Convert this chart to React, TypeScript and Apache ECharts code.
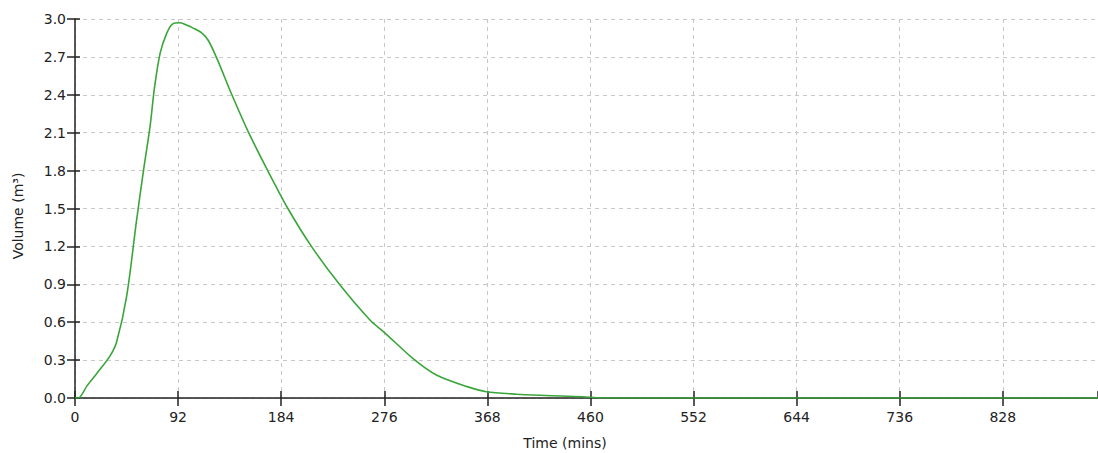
import React, { useEffect, useRef } from "react";
import * as echarts from "echarts";

const timeMins: number[] = [
  0, 3, 11, 20, 31, 37, 46, 55, 61.6, 67, 71, 76, 82, 87, 94, 100, 105, 113,
  119, 127, 140, 155, 172, 190, 211, 236, 263, 276, 302, 323, 350, 367, 394,
  420, 453, 470, 913,
];
const volumeM3: number[] = [
  0, 0, 0.1, 0.2, 0.33, 0.44, 0.8, 1.41, 1.83, 2.15, 2.46, 2.73, 2.89, 2.96,
  2.97, 2.95, 2.93, 2.89, 2.83, 2.68, 2.4, 2.1, 1.8, 1.5, 1.2, 0.9, 0.62, 0.52,
  0.31, 0.18, 0.09, 0.05, 0.03, 0.02, 0.01, 0, 0,
];
const xTickInterval = 92;
const yTickInterval = 0.3;
const xMax = 913;
const yMax = 3.0;

const font = "DejaVu Sans, Verdana, sans-serif";

export default function App() {
  const ref = useRef<HTMLDivElement>(null);
  useEffect(() => {
    if (!ref.current) return;
    const chart = echarts.init(ref.current, undefined, { renderer: "svg" });
    const data = timeMins.map((t, i) => [t, volumeM3[i]]);
    const gridLine = {
      show: true,
      lineStyle: { color: "#c8c8c8", type: [4, 4] as any, width: 1 },
    };
    chart.setOption({
      animation: false,
      backgroundColor: "#ffffff",
      grid: { left: 75, right: 0, top: 19, bottom: 55, containLabel: false },
      xAxis: [
        {
          type: "value",
          min: 0,
          max: xMax,
          interval: xTickInterval,
          axisLine: { show: true, onZero: false, lineStyle: { color: "#222", width: 1.5 } },
          axisTick: { show: true, length: 8, lineStyle: { color: "#222", width: 1.5 } },
          axisLabel: {
            showMaxLabel: false,
            color: "#222",
            fontFamily: font,
            fontSize: 14,
            margin: 12,
          },
          splitLine: gridLine,
        },
        {
          type: "value",
          position: "bottom",
          min: 0,
          max: xMax,
          interval: xTickInterval,
          axisLine: { show: false },
          axisTick: { show: true, inside: true, length: 7, lineStyle: { color: "#222", width: 1.5 } },
          axisLabel: { show: false },
          splitLine: { show: false },
        },
      ],
      yAxis: [
        {
          type: "value",
          min: 0,
          max: yMax,
          interval: yTickInterval,
          axisLine: { show: true, onZero: false, lineStyle: { color: "#222", width: 1.5 } },
          axisTick: { show: true, length: 8, lineStyle: { color: "#222", width: 1.5 } },
          axisLabel: {
            color: "#222",
            fontFamily: font,
            fontSize: 14,
            margin: 9,
            formatter: (v: number) => v.toFixed(1),
          },
          splitLine: gridLine,
        },
        {
          type: "value",
          position: "left",
          min: 0,
          max: yMax,
          interval: yTickInterval,
          axisLine: { show: false },
          axisTick: { show: true, inside: true, length: 5, lineStyle: { color: "#222", width: 1.5 } },
          axisLabel: { show: false },
          splitLine: { show: false },
        },
      ],
      graphic: [
        {
          type: "text",
          x: 565,
          y: 443,
          style: {
            text: "Time (mins)",
            fontFamily: font,
            fontSize: 14,
            fill: "#222",
            align: "center",
            verticalAlign: "middle",
          },
        },
        {
          type: "text",
          x: 18,
          y: 216,
          rotation: Math.PI / 2,
          style: {
            text: "Volume (m³)",
            fontFamily: font,
            fontSize: 14,
            fill: "#222",
            align: "center",
            verticalAlign: "middle",
          },
        },
      ],
      series: [
        {
          type: "line",
          xAxisIndex: 0,
          yAxisIndex: 0,
          data,
          showSymbol: false,
          smooth: 0.3,
          lineStyle: { color: "#3aa63a", width: 1.6 },
          z: 5,
        },
      ],
    });
    return () => chart.dispose();
  }, []);
  return (
    <div
      ref={ref}
      style={{ position: "fixed", left: 0, top: 0, width: 1098, height: 453 }}
    />
  );
}
